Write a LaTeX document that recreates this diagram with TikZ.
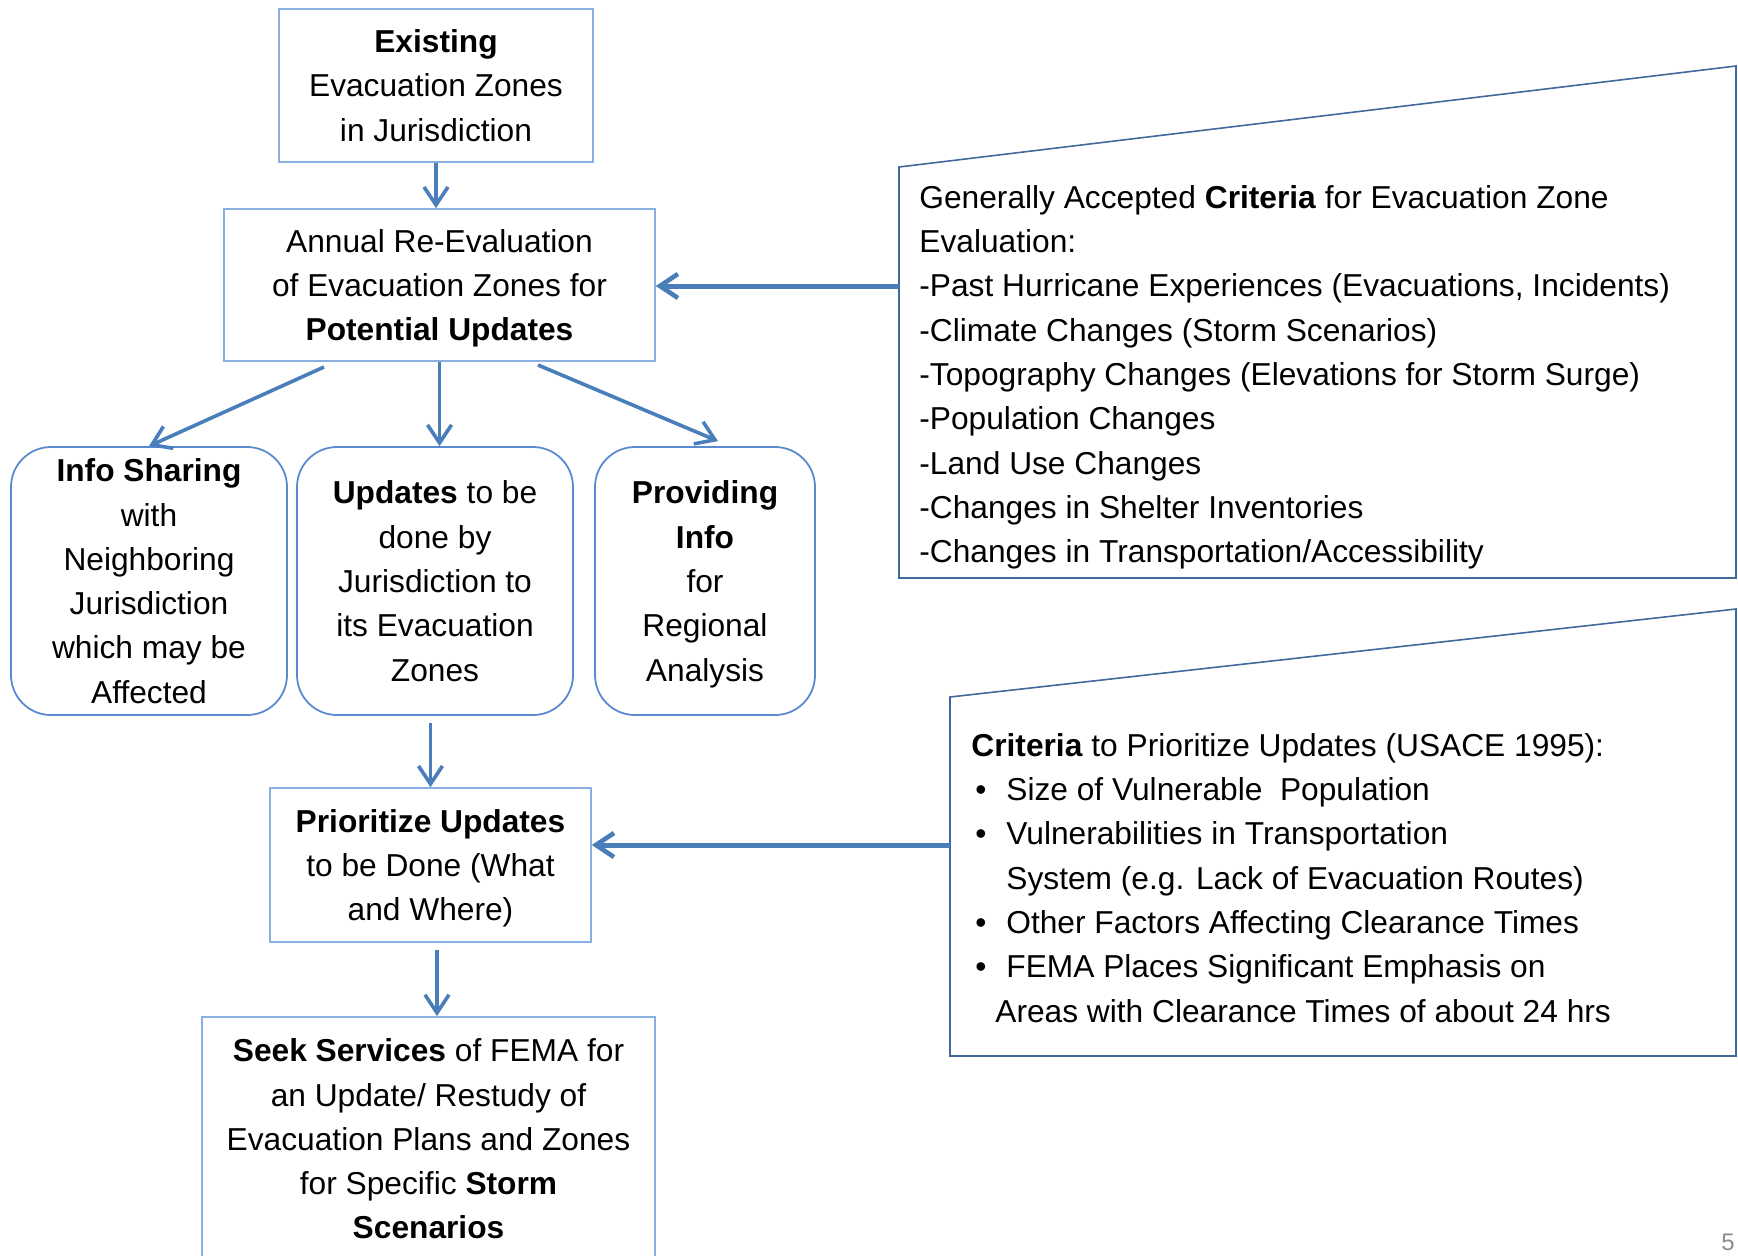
\documentclass[tikz,border=0pt]{standalone}
\usepackage{fontspec}
\setmainfont{Liberation Sans}
\usetikzlibrary{arrows.meta,calc}

\definecolor{arrowblue}{HTML}{4A7EBB}
\definecolor{rectblue}{HTML}{8AB0E0}
\definecolor{roundblue}{HTML}{5A8AD0}
\definecolor{noteblue}{HTML}{41699C}
\definecolor{pagegray}{HTML}{8C8C8C}

\newcommand\diagfont{\fontsize{15.85pt}{22.15pt}\selectfont}

\begin{document}
\begin{tikzpicture}[x=0.5pt,y=-0.5pt,
  box/.style={draw=rectblue, line width=0.8pt, align=center, inner sep=0pt, font=\diagfont, text depth=0pt},
  roundbox/.style={draw=roundblue, line width=0.9pt, rounded corners=20pt, align=center, inner sep=0pt, font=\diagfont, text depth=0pt, minimum height=134pt},
  notetext/.style={align=left, inner sep=0pt, anchor=north west, font=\diagfont},
  noteframe/.style={draw=noteblue, line width=0.8pt},
  arr/.style={draw=arrowblue, line width=1.8pt, -{Straight Barb[length=9pt,width=12pt,line width=1.8pt]}},
  bigarr/.style={draw=arrowblue, line width=2.5pt, -{Straight Barb[length=9pt,width=12pt,line width=2.3pt]}}]
\useasboundingbox (0,0) rectangle (1738,1255);

% main flow boxes
\node[box, minimum width=157pt, minimum height=76.5pt] (exist) at (436,85.5)
  {\textbf{Existing}\\Evacuation Zones\\in Jurisdiction};
\node[box, minimum width=215.5pt, minimum height=76pt] (annual) at (439.5,285)
  {Annual Re-Evaluation\\of Evacuation Zones for\\\textbf{Potential Updates}};

\node[roundbox, minimum width=138pt] (info) at (149,581)
  {\textbf{Info Sharing}\\with\\Neighboring\\Jurisdiction\\which may be\\Affected};
\node[roundbox, minimum width=138pt] (upd) at (435,581)
  {\textbf{Updates} to be\\done by\\Jurisdiction to\\its Evacuation\\Zones};
\node[roundbox, minimum width=110pt] (prov) at (705,581)
  {\textbf{Providing}\\\textbf{Info}\\for\\Regional\\Analysis};

\node[box, minimum width=160.5pt, minimum height=77pt] (prio) at (430.5,865)
  {\textbf{Prioritize Updates}\\to be Done (What\\and Where)};
\node[box, minimum width=226.5pt, minimum height=122pt, anchor=north] (seek) at (428.5,1016)
  {\textbf{Seek Services} of FEMA for\\an Update/ Restudy of\\Evacuation Plans and Zones\\for Specific \textbf{Storm}\\\textbf{Scenarios}};

% criteria callouts
\coordinate (n1a) at (899,167);
\coordinate (n1b) at (1736,66);
\coordinate (n1c) at (1736,578);
\coordinate (n1d) at (899,578);
\draw[noteframe] (n1a) -- (n1b) -- (n1c) -- (n1d) -- cycle;
\node[notetext] (crit) at (919,185)
  {Generally Accepted \textbf{Criteria} for Evacuation Zone\\
   Evaluation:\\
   -Past Hurricane Experiences (Evacuations, Incidents)\\
   -Climate Changes (Storm Scenarios)\\
   -Topography Changes (Elevations for Storm Surge)\\
   -Population Changes\\
   -Land Use Changes\\
   -Changes in Shelter Inventories\\
   -Changes in Transportation/Accessibility};

\coordinate (n2a) at (950,697);
\coordinate (n2b) at (1736,609);
\coordinate (n2c) at (1736,1056);
\coordinate (n2d) at (950,1056);
\draw[noteframe] (n2a) -- (n2b) -- (n2c) -- (n2d) -- cycle;
\node[notetext] (prior) at (971,733)
  {\textbf{Criteria} to Prioritize Updates (USACE 1995):\\
   \makebox[17.5pt][l]{\hspace{2pt}•}Size of Vulnerable\ \ Population\\
   \makebox[17.5pt][l]{\hspace{2pt}•}Vulnerabilities in Transportation\\
   \hspace*{17.5pt}System (e.g. Lack of Evacuation Routes)\\
   \makebox[17.5pt][l]{\hspace{2pt}•}Other Factors Affecting Clearance Times\\
   \makebox[17.5pt][l]{\hspace{2pt}•}FEMA Places Significant Emphasis on\\
   \hspace*{12pt}Areas with Clearance Times of about 24 hrs};

% page number
\node[anchor=north west, inner sep=0pt, text=pagegray, font=\fontsize{12pt}{14pt}\selectfont] (pnum) at (1721,1234) {5};

% connectors
\draw[arr] (exist.south) -- (exist.south |- annual.north);
\coordinate (sa) at (324,367);
\coordinate (sc) at (538,365);
\draw[arr] (sa) -- (info.north);
\draw[arr] (annual.south) -- (annual.south |- upd.north);
\draw[arr] (sc) -- ($(prov.north)+(13,-5)$);
\draw[arr] (prio.north |- 0,723) -- (prio.north);
\coordinate (sp) at (437,950);
\draw[arr] (sp) -- (sp |- seek.north);

\coordinate (c1) at (899,286);
\coordinate (c2) at (950,845);
\draw[bigarr] (c1) -- (annual.east |- c1);
\draw[bigarr] (c2) -- (prio.east |- c2);
\end{tikzpicture}
\end{document}
